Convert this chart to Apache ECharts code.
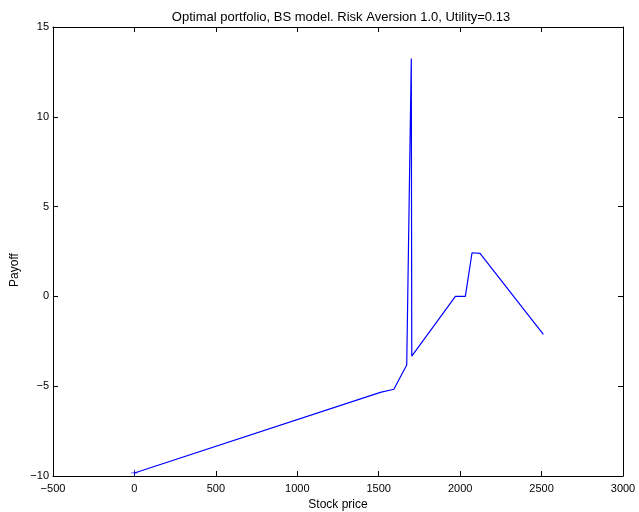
<!DOCTYPE html>
<html>
<head>
<meta charset="utf-8">
<script src="https://cdn.jsdelivr.net/npm/echarts@6/dist/echarts.min.js"></script>
<style>html,body{margin:0;padding:0;background:#fff;}#c{width:639px;height:512px;}</style>
</head>
<body>
<div id="c"></div>
<script>
const titleText = 'Optimal portfolio, BS model. Risk Aversion 1.0, Utility=0.13';
const xName = 'Stock price';
const yName = 'Payoff';
const stockPrice = [0, 1510, 1593, 1672, 1700, 1703, 1971, 2032, 2073, 2122, 2511];
const payoff = [-9.83, -5.34, -5.17, -3.82, 13.25, -3.33, 0.0, 0.0, 2.43, 2.40, -2.11];
const markerX = [0];
const markerY = [-9.83];

const font = 'Liberation Sans, Arial, Helvetica, sans-serif';
const fmt = v => String(v).replace('-', '\u2212');
const chart = echarts.init(document.getElementById('c'), null, {renderer: 'canvas'});
const axisCommon = {
  type: 'value',
  axisLine: {show: true, onZero: false, lineStyle: {color: '#000', width: 1}},
  axisTick: {show: true, inside: true, length: 5, lineStyle: {color: '#000', width: 1}},
  splitLine: {show: false},
  axisLabel: {color: '#000', fontFamily: font, fontSize: 11, formatter: fmt}
};
chart.setOption({
  animation: false,
  backgroundColor: '#fff',
  title: {text: titleText, left: 336, top: 6, textAlign: 'center',
    textStyle: {fontFamily: font, fontSize: 13, fontWeight: 'normal', color: '#000'}},
  grid: {left: 53, top: 27, right: 16, bottom: 36, containLabel: false, outerBoundsMode: 'none'},
  xAxis: [
    Object.assign({}, axisCommon, {min: -500, max: 3000, interval: 500, position: 'bottom',
      name: xName, nameLocation: 'middle', nameGap: 21,
      nameTextStyle: {fontFamily: font, fontSize: 12, color: '#000'},
      axisLabel: Object.assign({}, axisCommon.axisLabel, {margin: 7})}),
    Object.assign({}, axisCommon, {min: -500, max: 3000, interval: 500, position: 'top',
      axisLabel: {show: false}})
  ],
  yAxis: [
    Object.assign({}, axisCommon, {min: -10, max: 15, interval: 5, position: 'left',
      axisLabel: Object.assign({}, axisCommon.axisLabel, {margin: 4})}),
    Object.assign({}, axisCommon, {min: -10, max: 15, interval: 5, position: 'right',
      axisLabel: {show: false}})
  ],
  graphic: [{
    type: 'text', x: 15, y: 270, rotation: Math.PI / 2,
    style: {text: yName, fontFamily: font, fontSize: 12, fill: '#000', align: 'center', verticalAlign: 'middle'}
  }],
  series: [
    {type: 'line', xAxisIndex: 0, yAxisIndex: 0, showSymbol: false, symbol: 'none',
      lineStyle: {color: '#0000ff', width: 1.2}, data: stockPrice.map((x, i) => [x, payoff[i]])},
    {type: 'scatter', xAxisIndex: 0, yAxisIndex: 0,
      symbol: 'path://M0,4.5h10v1h-10zM4.5,0h1v10h-1z', symbolSize: 7,
      itemStyle: {color: '#0000ff'}, data: markerX.map((x, i) => [x, markerY[i]])}
  ]
});
</script>
</body>
</html>
